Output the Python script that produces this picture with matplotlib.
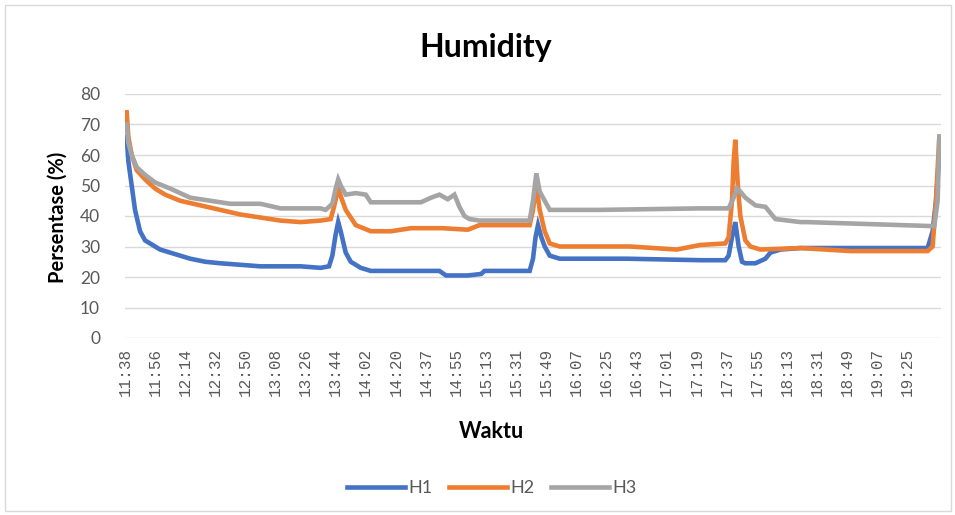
import matplotlib
matplotlib.use('Agg')
import matplotlib.pyplot as plt
from matplotlib.patches import Rectangle

# ── Data (minutes after 11:38, humidity %) ───────────────────────────────────
tick_labels = ['11:38', '11:56', '12:14', '12:32', '12:50', '13:08', '13:26',
               '13:44', '14:02', '14:20', '14:37', '14:55', '15:13', '15:31',
               '15:49', '16:07', '16:25', '16:43', '17:01', '17:19', '17:37',
               '17:55', '18:13', '18:31', '18:49', '19:07', '19:25']

h1_t = [1, 2, 4, 6, 9, 12, 15, 21, 27, 33, 39, 48, 57, 69, 81, 105, 117, 122,
        124, 126, 127.5, 129, 132, 135, 141, 147, 170, 188, 192, 205, 213, 215,
        242, 244, 245.5, 247, 249, 251, 254, 260, 300, 345, 359, 361, 363, 365,
        367, 369, 371, 377, 383, 386, 392, 404, 480, 483, 485, 487]
h1_v = [66, 58, 50, 42, 35, 32, 31, 29, 28, 27, 26, 25, 24.5, 24, 23.5, 23.5,
        23, 23.5, 27, 34, 38, 35, 28, 25, 23, 22, 22, 22, 20.5, 20.5, 21, 22,
        22, 26, 33, 37, 33, 30, 27, 26, 26, 25.5, 25.5, 27, 33, 38, 30, 25, 24.5,
        24.5, 26, 28, 29, 29.5, 29.5, 35, 45, 60]

h2_t = [1, 2, 4, 7, 12, 18, 24, 33, 45, 57, 69, 81, 93, 105, 117, 123, 125,
        127.5, 130, 132, 138, 147, 159, 171, 190, 205, 212, 242, 244, 246, 248,
        251, 254, 260, 302, 330, 344, 359, 361, 363, 364, 365, 366.5, 368, 371,
        374, 380, 404, 434, 480, 483, 485, 487]
h2_v = [74, 66, 60, 55, 52, 49, 47, 45, 43.5, 42, 40.5, 39.5, 38.5, 38, 38.5,
        39, 43, 49, 45, 42, 37, 35, 35, 36, 36, 35.5, 37, 37, 42, 50, 42, 35,
        31, 30, 30, 29, 30.5, 31, 33, 45, 58, 65, 50, 40, 32, 30, 29, 29.5,
        28.5, 28.5, 30, 45, 66]

h3_t = [1, 2, 4, 7, 12, 18, 27, 39, 51, 63, 81, 93, 117, 120, 124, 126, 127.5,
        129, 132, 138, 144, 147, 177, 183, 188, 193, 197, 200, 203, 206, 212,
        242, 244, 246, 248, 251, 254, 284, 344, 361, 364, 366, 368, 371, 377,
        383, 386, 389, 404, 408, 482, 484, 486, 487]
h3_v = [70, 64, 60, 56, 53.5, 51, 49, 46, 45, 44, 44, 42.5, 42.5, 42, 44, 49,
        52, 50, 47, 47.5, 47, 44.5, 44.5, 46, 47, 45.5, 47, 43, 40, 39, 38.5,
        38.5, 45, 54, 48, 45, 42, 42, 42.5, 42.5, 46, 49, 48, 46, 43.5, 43, 41,
        39, 38, 38, 36.7, 36.7, 45, 66]

series = [('H1', h1_t, h1_v, '#4472C4'),
          ('H2', h2_t, h2_v, '#ED7D31'),
          ('H3', h3_t, h3_v, '#A5A5A5')]

# ── Figure ───────────────────────────────────────────────────────────────────
W, H = 955, 515
fig = plt.figure(figsize=(W / 100, H / 100), dpi=100)
fig.patch.set_facecolor('white')
fig.add_artist(Rectangle((5 / W, 4 / H), 946 / W, 506 / H, transform=fig.transFigure,
                         fill=False, edgecolor='#D9D9D9', lw=1))

ax = fig.add_axes([125 / W, 1 - 338 / H, 816 / W, 244 / H])
for name, t, v, c in series:
    ax.plot(t, v, color=c, lw=3.3, label=name, solid_joinstyle='miter')

ax.set_xlim(0, 488)
ax.set_ylim(0, 80)
ax.set_yticks(range(0, 81, 10))
ax.set_xticks([18 * i for i in range(len(tick_labels))])
ax.set_xticklabels(tick_labels, rotation=90, family='Liberation Mono',
                   fontsize=11.5, color='#595959')
ax.tick_params(axis='y', length=0, pad=18, labelsize=12.5, labelcolor='#595959')
ax.tick_params(axis='x', length=0, pad=7)
for lbl in ax.get_yticklabels():
    lbl.set_family('Lato')
ax.grid(axis='y', color='#D9D9D9', lw=1)
for s in ax.spines.values():
    s.set_visible(False)
ax.set_axisbelow(True)

fig.text(486 / W, 1 - 47 / H, 'Humidity', ha='center', va='center',
         family='Lato', weight='bold', fontsize=23)
fig.text(58 / W, 1 - 217 / H, 'Persentase (%)', ha='center', va='center',
         rotation=90, family='Lato', weight='bold', fontsize=14.5)
fig.text(491 / W, 1 - 432 / H, 'Waktu', ha='center', va='center',
         family='Lato', weight='bold', fontsize=15.5)

leg = fig.legend(loc='center', bbox_to_anchor=(492 / W, 1 - 488 / H), ncol=3,
                 frameon=False, prop={'family': 'Lato', 'size': 13},
                 handlelength=3.2, handletextpad=0.2, columnspacing=0.9)
for txt in leg.get_texts():
    txt.set_color('#595959')

fig.savefig('out.png', dpi=100)
